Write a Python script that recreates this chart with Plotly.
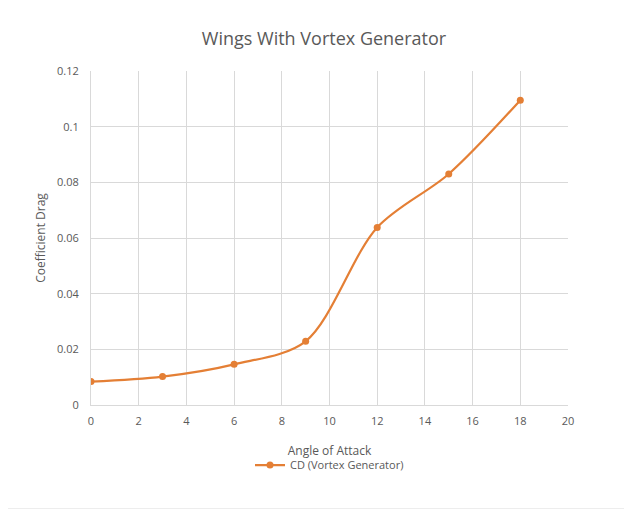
"""Wings with vortex generator: drag coefficient vs angle of attack."""

import plotly.graph_objects as go

angle = [0, 3, 6, 9, 12, 15, 18]
cd_vortex = [0.0084, 0.0102, 0.0146, 0.0229, 0.0638, 0.0830, 0.1095]

x_ticks = list(range(0, 21, 2))
y_ticks = [0, 0.02, 0.04, 0.06, 0.08, 0.1, 0.12]

ORANGE = "#E47F35"
GRID = "#D9D9D9"
TEXT = "#595959"
FONT = "Open Sans, Liberation Sans, sans-serif"

fig = go.Figure()

fig.add_trace(
    go.Scatter(
        x=angle,
        y=cd_vortex,
        mode="lines+markers",
        name="CD (Vortex Generator)",
        line=dict(color=ORANGE, width=2.2, shape="spline", smoothing=0.9),
        marker=dict(size=7, color=ORANGE),
    )
)

fig.update_layout(
    title=dict(
        text="Wings With Vortex Generator",
        x=0.5,
        xanchor="center",
        y=0.94,
        yanchor="middle",
        font=dict(size=18, color=TEXT, family=FONT),
    ),
    width=632,
    height=514,
    margin=dict(l=83, r=72, t=63, b=117, autoexpand=False),
    paper_bgcolor="white",
    plot_bgcolor="white",
    font=dict(family=FONT, size=11, color=TEXT),
    showlegend=True,
    legend=dict(
        orientation="h",
        x=0.5,
        xanchor="center",
        y=-0.18,
        yanchor="middle",
        font=dict(size=11, color=TEXT),
    ),
)

fig.update_xaxes(
    range=[0, 20],
    tickvals=x_ticks,
    showgrid=True,
    gridcolor=GRID,
    zeroline=False,
    showline=True,
    linecolor=GRID,
    ticks="",
    ticklabelstandoff=6,
    automargin=False,
    title=dict(text="Angle of Attack", font=dict(size=12, color=TEXT), standoff=19),
)

fig.update_yaxes(
    range=[0, 0.12],
    tickvals=y_ticks,
    showgrid=True,
    gridcolor=GRID,
    zeroline=False,
    showline=True,
    linecolor=GRID,
    ticks="",
    ticklabelstandoff=9,
    automargin=False,
    title=dict(text="Coefficient Drag", font=dict(size=12, color=TEXT), standoff=8),
)

fig.add_shape(
    type="rect",
    xref="paper",
    yref="paper",
    x0=-0.19,
    x1=1.13,
    y0=-0.31,
    y1=1.19,
    line=dict(color="#EDEDED", width=1),
)

fig.write_html("out.html")
